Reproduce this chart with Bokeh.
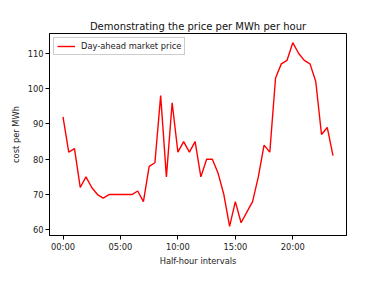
from bokeh.plotting import figure
from bokeh.models import Range1d, FixedTicker, Legend, LegendItem
from bokeh.embed import file_html
from bokeh.resources import INLINE

prices = [92, 82, 83, 72, 75, 72, 70, 69, 70, 70, 70, 70, 70, 71, 68, 78,
          79, 98, 75, 96, 82, 85, 82, 85, 75, 80, 80, 76, 70, 61, 68, 62,
          65, 68, 75, 84, 82, 103, 107, 108, 113, 110, 108, 107, 102, 87, 89, 81]
intervals = list(range(len(prices)))
tick_positions = [0, 10, 20, 30, 40]
tick_labels = ["00:00", "05:00", "10:00", "15:00", "20:00"]
y_ticks = [60, 70, 80, 90, 100, 110]

FONT = "DejaVu Sans"

p = figure(width=368, height=268, output_backend="svg", toolbar_location=None,
           x_range=Range1d(-2.35, 49.35), y_range=Range1d(58.4, 115.6),
           min_border_left=49, min_border_right=22, min_border_top=33,
           min_border_bottom=20)

p.title.text = "Demonstrating the price per MWh per hour"
p.title.align = "center"
p.title.text_font = FONT
p.title.text_font_size = "10px"
p.title.text_font_style = "normal"
p.title.text_color = "#111111"
p.title.standoff = 3

r = p.line(intervals, prices, line_color="red", line_width=1.4)

p.xgrid.visible = False
p.ygrid.visible = False
p.outline_line_color = "black"
p.outline_line_alpha = 1
p.outline_line_width = 1
p.background_fill_color = "white"
p.border_fill_color = "white"

for ax in (p.xaxis[0], p.yaxis[0]):
    ax.axis_line_color = "black"
    ax.major_tick_line_color = "black"
    ax.major_tick_out = 4
    ax.major_tick_in = 0
    ax.minor_tick_line_color = None
    ax.major_label_text_font = FONT
    ax.major_label_text_font_size = "8.3px"
    ax.major_label_text_color = "#222222"
    ax.axis_label_text_font = FONT
    ax.axis_label_text_font_size = "8.3px"
    ax.axis_label_text_font_style = "normal"
    ax.axis_label_text_color = "#222222"
    ax.major_label_standoff = 2

p.xaxis[0].ticker = FixedTicker(ticks=tick_positions)
p.xaxis[0].major_label_overrides = {t: l for t, l in zip(tick_positions, tick_labels)}
p.xaxis[0].axis_label = "Half-hour intervals"
p.xaxis[0].axis_label_standoff = 1
p.yaxis[0].ticker = FixedTicker(ticks=y_ticks)
p.yaxis[0].axis_label = "cost per MWh"
p.yaxis[0].axis_label_standoff = 4

legend = Legend(items=[LegendItem(label="Day-ahead market price", renderers=[r])],
                location="top_left")
legend.label_text_font = FONT
legend.label_text_font_size = "8.3px"
legend.label_text_color = "#222222"
legend.border_line_color = "#cccccc"
legend.border_line_alpha = 1
legend.background_fill_alpha = 0.8
legend.glyph_width = 18
legend.glyph_height = 10
legend.label_height = 10
legend.padding = 3
legend.spacing = 0
legend.margin = 4
legend.label_standoff = 6
p.add_layout(legend)

open("out.html", "w").write(file_html(p, INLINE))
